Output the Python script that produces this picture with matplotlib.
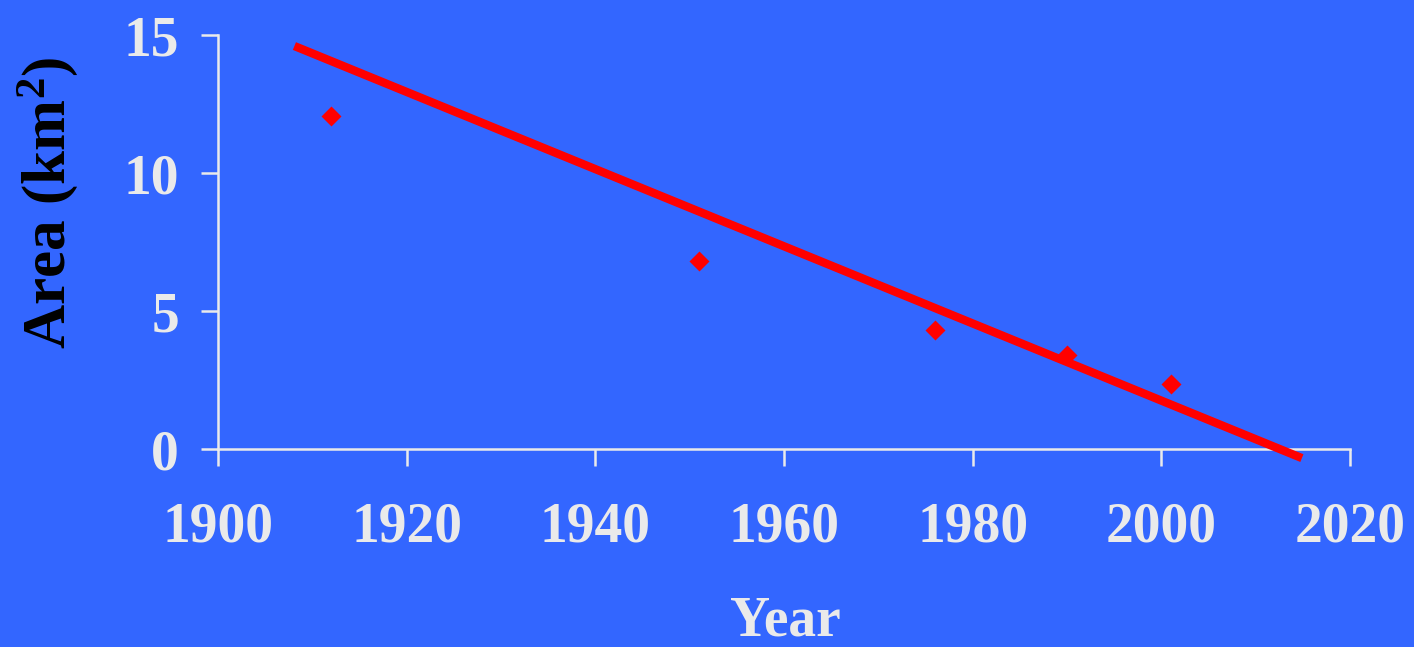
import matplotlib
matplotlib.use('Agg')
import matplotlib.pyplot as plt

# glacier area readings
years = [1912, 1951, 1976, 1990, 2001]
area = [12.07, 6.81, 4.31, 3.41, 2.36]

# trend line end points
trend_years = [1908.1, 2014.9]
trend_area = [14.6, -0.33]

xticks = [1900, 1920, 1940, 1960, 1980, 2000, 2020]
yticks = [0, 5, 10, 15]

bg = '#3366FF'
fg = '#EAEAEA'

plt.rcParams['font.family'] = 'Liberation Serif'
plt.rcParams['font.weight'] = 'bold'
plt.rcParams['mathtext.fontset'] = 'custom'
plt.rcParams['mathtext.rm'] = 'Liberation Serif:bold'
plt.rcParams['mathtext.default'] = 'rm'

fig = plt.figure(figsize=(14.14, 6.47), dpi=100, facecolor=bg)
ax = fig.add_axes([218/1414, 1 - 449/647, 1132/1414, 414/647])
ax.set_facecolor(bg)

ax.plot(trend_years, trend_area, color='#FF0000', lw=6, solid_capstyle='butt',
        clip_on=False, zorder=3)
ax.plot(years, area, 'D', color='#FF0000', ms=10, mec='none', zorder=4)

ax.set_xlim(1900, 2020)
ax.set_ylim(0, 15)
ax.set_xticks(xticks)
ax.set_yticks(yticks)

for s in ['top', 'right']:
    ax.spines[s].set_visible(False)
for s in ['left', 'bottom']:
    ax.spines[s].set_color(fg)
    ax.spines[s].set_linewidth(1.8)

ax.tick_params(axis='both', colors=fg, length=12, width=1.8, direction='out',
               labelsize=40)
ax.tick_params(axis='y', pad=16)
ax.tick_params(axis='x', pad=26)
for lab in ax.get_xticklabels() + ax.get_yticklabels():
    lab.set_fontweight('bold')

fig.text(48/1414, 1 - 203/647, r'Area (km$^2$)', rotation=90, ha='center',
         va='center', fontsize=44, fontweight='bold', color='black')
fig.text(785/1414, 1 - 621/647, 'Year', ha='center', va='center',
         fontsize=40, fontweight='bold', color=fg)

fig.savefig('out.png', dpi=100, facecolor=bg)
